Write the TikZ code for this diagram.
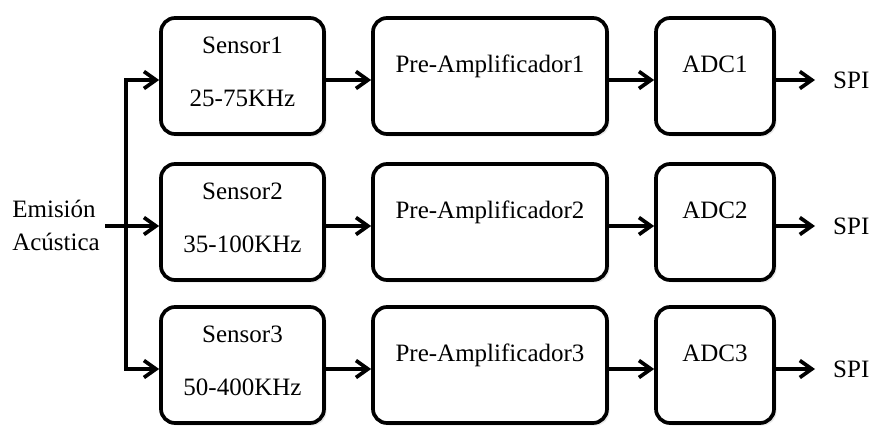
\documentclass[tikz,border=0pt]{standalone}
\usepackage{fontspec}
\setmainfont{Liberation Serif}
\usetikzlibrary{arrows.meta,shadows}

\tikzset{
  blk/.style={draw, line width=3.7pt, rounded corners=14pt, fill=white,
    minimum height=116pt, inner sep=0pt,
    drop shadow={shadow xshift=2.5pt, shadow yshift=-2.5pt, opacity=0.18}},
  txt/.style={font=\fontsize{25}{33}\selectfont, inner sep=0pt},
  lbl/.style={txt, anchor=base},
  arr/.style={line width=3.7pt, -{Straight Barb[length=12pt,width=17pt]}},
}

\begin{document}
\begin{tikzpicture}[x=1pt,y=-1pt]
\useasboundingbox (0,0) rectangle (872,426);

% three identical processing chains: sensor -> pre-amplifier -> ADC -> SPI
\foreach \i/\c/\band in {1/76/25-75KHz, 2/222/35-100KHz, 3/365/50-400KHz}{
  \node[blk, minimum width=163pt] (s\i) at (242.5,\c) {};
  \node[blk, minimum width=234pt] (p\i) at (490,\c) {};
  \node[blk, minimum width=118pt] (a\i) at (715,\c) {};
  \node[lbl] (sn\i) at (242.5,\c-23) {Sensor\i};
  \node[lbl] (sb\i) at (242.5,\c+30) {\band};
  \node[lbl] (pn\i) at (490,\c-4) {Pre-Amplificador\i};
  \node[lbl] (an\i) at (715,\c-4) {ADC\i};
  \node[txt, anchor=west, inner xsep=18pt] (spi\i) at (815,\c+4) {SPI};
  \draw[arr] ([yshift=-4pt]s\i.east) -- ([yshift=-4pt]p\i.west);
  \draw[arr] ([yshift=-4pt]p\i.east) -- ([yshift=-4pt]a\i.west);
  \draw[arr] ([yshift=-4pt]a\i.east) -- (spi\i.west);
}

% acoustic emission input, split to the three sensors
\node[txt, align=left, anchor=east] (src) at (100,225) {Emisión\\Acústica};
\coordinate (jin) at (105,226);
\coordinate (jun) at (126,226);
\draw[arr] (jin) -- ([yshift=-4pt]s2.west);
\draw[arr] (jun) |- ([yshift=-4pt]s1.west);
\draw[arr] (jun) |- ([yshift=-4pt]s3.west);
\end{tikzpicture}
\end{document}
